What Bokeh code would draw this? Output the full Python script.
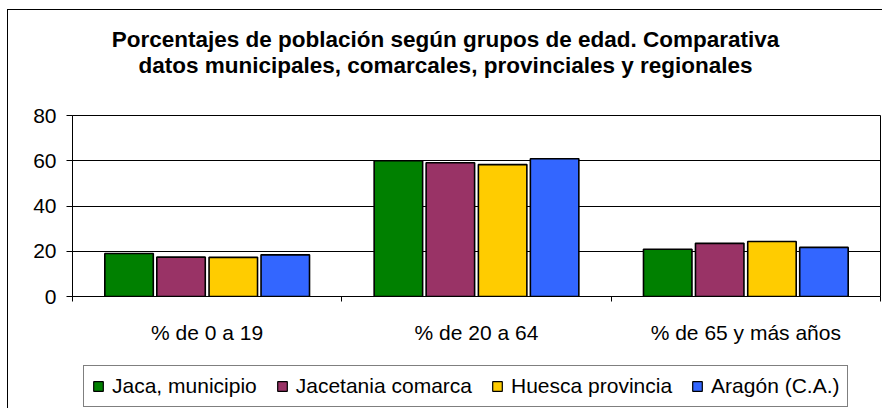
from bokeh.plotting import figure
from bokeh.layouts import column
from bokeh.models import (ColumnDataSource, FixedTicker, Range1d, Legend,
                          LegendItem, Label)
from bokeh.transform import dodge
from bokeh.embed import file_html
from bokeh.resources import INLINE

# ---- data ----
categories = ["% de 0 a 19", "% de 20 a 64", "% de 65 y más años"]
series_names = ["Jaca, municipio", "Jacetania comarca", "Huesca provincia", "Aragón (C.A.)"]
jaca = [19.0, 60.0, 20.9]
jacetania = [17.4, 59.1, 23.5]
huesca = [17.3, 58.3, 24.3]
aragon = [18.4, 60.9, 21.7]
y_ticks = [0, 20, 40, 60, 80]
title_lines = ["Porcentajes de población según grupos de edad. Comparativa",
               "datos municipales, comarcales, provinciales y regionales"]

colors = ["#008000", "#993366", "#FFCC00", "#3366FF"]
offsets = [-0.29, -0.097, 0.097, 0.29]
FONT = "Liberation Sans"
W = 874

xs = [i + 0.5 for i in range(len(categories))]
source = ColumnDataSource(dict(x=xs, jaca=jaca, jacetania=jacetania,
                               huesca=huesca, aragon=aragon))
cols = ["jaca", "jacetania", "huesca", "aragon"]


def bare(h):
    f = figure(width=W, height=h, output_backend="svg", toolbar_location=None,
               x_axis_type=None, y_axis_type=None,
               min_border_left=0, min_border_right=0, min_border_top=0,
               min_border_bottom=0)
    f.outline_line_color = None
    f.background_fill_color = "white"
    f.border_fill_color = "white"
    return f


# ---- title ----
pt = bare(90)
pt.x_range = Range1d(0, 1)
pt.y_range = Range1d(0, 1)
for line, yb in zip(title_lines, [61, 35]):
    pt.add_layout(Label(x=373, y=yb, x_units="screen", y_units="screen",
                        text=line, text_font=FONT, text_font_size="22.5px",
                        text_font_style="bold", text_align="center",
                        text_baseline="alphabetic", text_color="black"))

# ---- main chart ----
p = figure(width=W, height=246, output_backend="svg", toolbar_location=None,
           x_range=Range1d(0, len(categories)), y_range=Range1d(0, 80),
           min_border_left=64, min_border_top=15, min_border_bottom=47,
           min_border_right=2)
p.background_fill_color = "white"
p.border_fill_color = "white"
p.outline_line_color = "black"
p.outline_line_width = 1

renderers = []
for col, off, c in zip(cols, offsets, colors):
    r = p.vbar(x=dodge("x", off), top=col, width=0.18, source=source,
               fill_color=c, line_color="black", line_width=1.6)
    renderers.append(r)

xa = p.xaxis[0]
xa.ticker = FixedTicker(ticks=xs, minor_ticks=list(range(len(categories) + 1)))
xa.major_label_overrides = {x: c for x, c in zip(xs, categories)}
xa.major_tick_out = 0
xa.major_tick_in = 0
xa.minor_tick_out = 5
xa.minor_tick_in = 0
xa.minor_tick_line_color = "black"
xa.axis_line_color = "black"
xa.major_label_text_font = FONT
xa.major_label_text_font_size = "21px"
xa.major_label_text_color = "black"
xa.major_label_standoff = 19

ya = p.yaxis[0]
ya.ticker = FixedTicker(ticks=y_ticks)
ya.major_tick_out = 6
ya.major_tick_in = 0
ya.minor_tick_line_color = None
ya.axis_line_color = "black"
ya.major_tick_line_color = "black"
ya.major_label_text_font = FONT
ya.major_label_text_font_size = "21px"
ya.major_label_text_color = "black"
ya.major_label_standoff = 10

p.xgrid.grid_line_color = None
p.ygrid.grid_line_color = "black"
p.ygrid.grid_line_width = 1

# ---- legend strip ----
pl = bare(62)
pl.x_range = p.x_range
pl.y_range = Range1d(1000, 1001)   # keeps the proxy bars out of view
leg_renderers = []
for col, off, c in zip(cols, offsets, colors):
    leg_renderers.append(pl.vbar(x=dodge("x", off), top=col, width=0.18, source=source,
                                 fill_color=c, line_color="black", line_width=1.2))
legend = Legend(items=[LegendItem(label=n, renderers=[r]) for n, r in zip(series_names, leg_renderers)],
                orientation="horizontal", location=(11, 1),
                label_text_font=FONT, label_text_font_size="21px",
                label_text_color="black",
                glyph_width=12, glyph_height=12, label_standoff=8, spacing=19,
                padding=8, margin=0, border_line_color="black", border_line_width=1,
                background_fill_color="white", background_fill_alpha=1)
pl.add_layout(legend, "center")

layout = column(pt, p, pl, spacing=0,
                styles={"margin": "9px 0px 0px 7px",
                        "border-left": "1px solid black", "border-top": "1px solid black"})

open("out.html", "w").write(file_html(layout, INLINE))
